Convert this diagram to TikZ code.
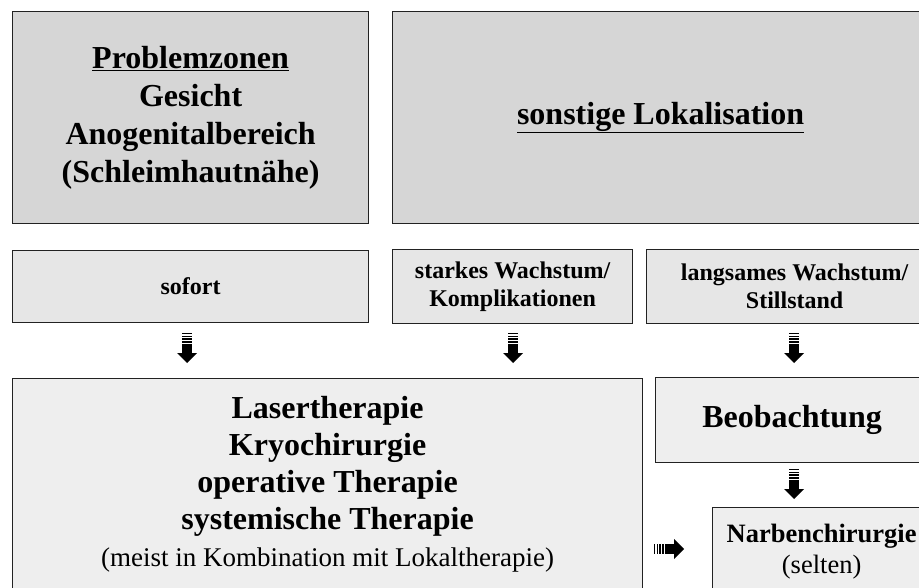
\documentclass[tikz,border=0pt]{standalone}
\usepackage{fontspec}
\setmainfont{Liberation Serif}
\definecolor{topfill}{HTML}{D6D6D6}
\definecolor{midfill}{HTML}{E6E6E6}
\definecolor{lowfill}{HTML}{EEEEEE}
\definecolor{edge}{HTML}{222222}
\begin{document}
\begin{tikzpicture}[x=1pt,y=-1pt,
  box/.style={draw=edge, line width=1.2pt, anchor=north west, align=center, inner sep=0pt, text=black},
  topbox/.style={box, fill=topfill, font=\bfseries\fontsize{32}{38}\selectfont},
  midbox/.style={box, fill=midfill, font=\bfseries\fontsize{24}{28}\selectfont},
  lowbox/.style={box, fill=lowfill, font=\bfseries\fontsize{32}{37}\selectfont},
  stripearrow/.pic={
    \fill[black] (-5,0) rectangle (5,1);
    \fill[black] (-5,2.6) rectangle (5,3.8);
    \fill[black] (-5,5.2) rectangle (5,6.8);
    \fill[black] (-5,8.0) rectangle (5,10);
    \fill[black] (-5,11) rectangle (5,20.5);
    \fill[black] (-10,20) -- (10,20) -- (0,30) -- cycle;
  }]
\useasboundingbox (0,0) rectangle (919,588);
\fill[white] (0,0) rectangle (919,588);

% top row
\node[topbox, minimum width=356pt, minimum height=212pt] (t1) at (12,11)
  {\underline{Problemzonen}\\Gesicht\\Anogenitalbereich\\(Schleimhautnähe)};
\node[topbox, minimum width=536pt, minimum height=212pt] (t2) at (392,11)
  {\underline{sonstige Lokalisation}};

% second row
\node[midbox, minimum width=356pt, minimum height=72pt] (r1) at (12,250) {sofort};
\node[midbox, minimum width=240pt, minimum height=74pt] (r2) at (392,249)
  {starkes Wachstum/\\Komplikationen};
\node[midbox, minimum width=296pt, minimum height=74pt] (r3) at (646,249)
  {langsames Wachstum/\\Stillstand};

% lower boxes
\node[lowbox, minimum width=630pt, minimum height=212pt] (big) at (12,378)
  {Lasertherapie\\Kryochirurgie\\operative Therapie\\systemische Therapie\\
   {\mdseries\fontsize{27}{34}\selectfont (meist in Kombination mit Lokaltherapie)}};
\node[lowbox, minimum width=273pt, minimum height=85pt] (beob) at (655,377) {Beobachtung};
\node[lowbox, minimum width=218pt, minimum height=88pt,
      font=\bfseries\fontsize{26.5}{31}\selectfont] (narb) at (712,507)
  {Narbenchirurgie\\{\mdseries (selten)}};

% arrows
\pic at (187,333) {stripearrow};
\pic at (513,333) {stripearrow};
\pic at (794,333) {stripearrow};
\pic at (794,469) {stripearrow};
\pic[rotate=90] at (654,549) {stripearrow};
\end{tikzpicture}
\end{document}
